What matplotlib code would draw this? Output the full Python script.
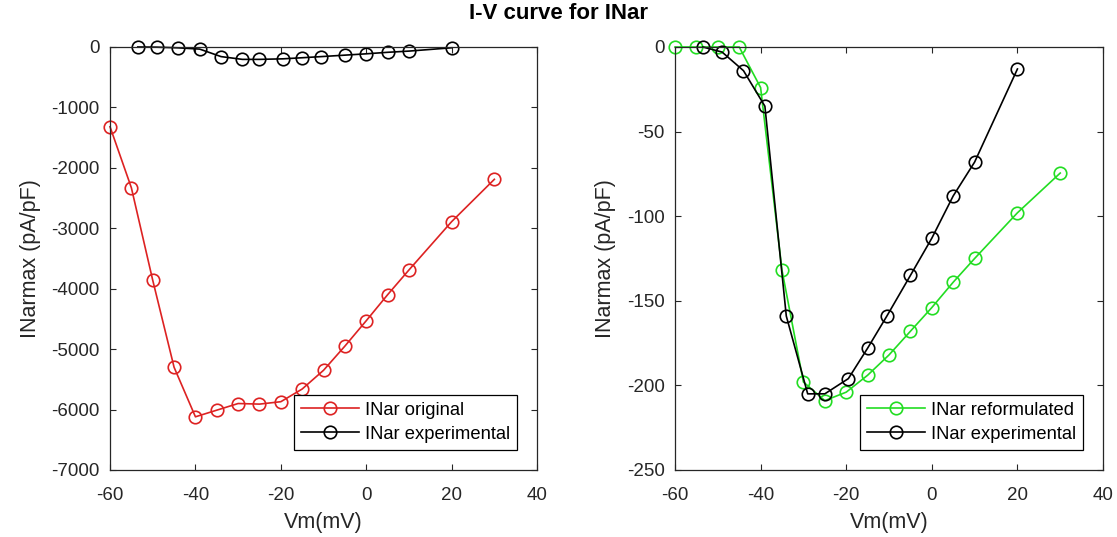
import matplotlib
matplotlib.use("Agg")
import matplotlib.pyplot as plt

plt.rcParams['font.family'] = ['Liberation Sans', 'DejaVu Sans']
plt.rcParams['axes.unicode_minus'] = False

# Membrane voltages (mV)
vm_model = [-60, -55, -50, -45, -40, -35, -30, -25, -20, -15, -10, -5, 0, 5, 10, 20, 30]
vm_exp = [-53.5, -49, -44, -39, -34, -29, -25, -19.5, -15, -10.5, -5, 0, 5, 10, 20]

# Peak INar (pA/pF)
inar_original = [-1320, -2330, -3860, -5300, -6120, -6010, -5900, -5910, -5870,
                 -5660, -5350, -4950, -4530, -4100, -3690, -2890, -2190]
inar_reformulated = [0, 0, 0, 0, -24, -132, -198, -209, -204, -194, -182, -168,
                     -154, -139, -125, -98, -74.5]
inar_experimental = [0, -3, -14, -35, -159, -205, -205, -196, -178, -159, -135,
                     -113, -88, -68, -13]

x_ticks = [-60, -40, -20, 0, 20, 40]
left_yticks = [0, -1000, -2000, -3000, -4000, -5000, -6000, -7000]
right_yticks = [0, -50, -100, -150, -200, -250]

RED = '#dd2222'
GREEN = '#22dd22'
AX_COLOR = '#262626'

fig = plt.figure(figsize=(11.17, 5.37), dpi=100)
ax1 = fig.add_axes([0.0985, 0.1248, 0.3823, 0.7877])
ax2 = fig.add_axes([0.6043, 0.1248, 0.3832, 0.7877])

mk = dict(marker='o', markersize=9, markerfacecolor='none', linewidth=1.2,
          markeredgewidth=1.2)

ax1.plot(vm_model, inar_original, color=RED, label='INar original', **mk)
ax1.plot(vm_exp, inar_experimental, color='black', label='INar experimental', **mk)
ax1.set_ylim(-7000, 0)
ax1.set_yticks(left_yticks)

ax2.plot(vm_model, inar_reformulated, color=GREEN, label='INar reformulated', **mk)
ax2.plot(vm_exp, inar_experimental, color='black', label='INar experimental', **mk)
ax2.set_ylim(-250, 0)
ax2.set_yticks(right_yticks)

for ax in (ax1, ax2):
    ax.set_xlim(-60, 40)
    ax.set_xticks(x_ticks)
    ax.tick_params(direction='in', top=True, right=True, length=4, width=0.8,
                   colors=AX_COLOR, labelsize=13.5)
    ax.tick_params(axis='x', pad=12)
    ax.tick_params(axis='y', pad=7.5)
    for s in ax.spines.values():
        s.set_color(AX_COLOR)
        s.set_linewidth(0.9)
    ax.set_xlabel('Vm(mV)', fontsize=15.5, color=AX_COLOR, labelpad=6)
    ax.set_ylabel('INarmax (pA/pF)', fontsize=15.5, color=AX_COLOR, labelpad=7.5)
    for lbl in ax.get_xticklabels() + ax.get_yticklabels():
        lbl.set_color(AX_COLOR)
    leg = ax.legend(loc='lower right', fontsize=13.2, frameon=True, fancybox=False,
                    edgecolor='black', framealpha=1, handlelength=3.2,
                    borderpad=0.38, labelspacing=0.38, handletextpad=0.3,
                    borderaxespad=1.1)
    leg.get_frame().set_linewidth(0.9)
    for line in ax.get_lines():
        line.set_clip_on(False)

fig.text(0.5, 0.974, 'I-V curve for INar', ha='center', va='center',
         fontsize=16, fontweight='bold', color='black')

fig.savefig('out.png', dpi=100)
